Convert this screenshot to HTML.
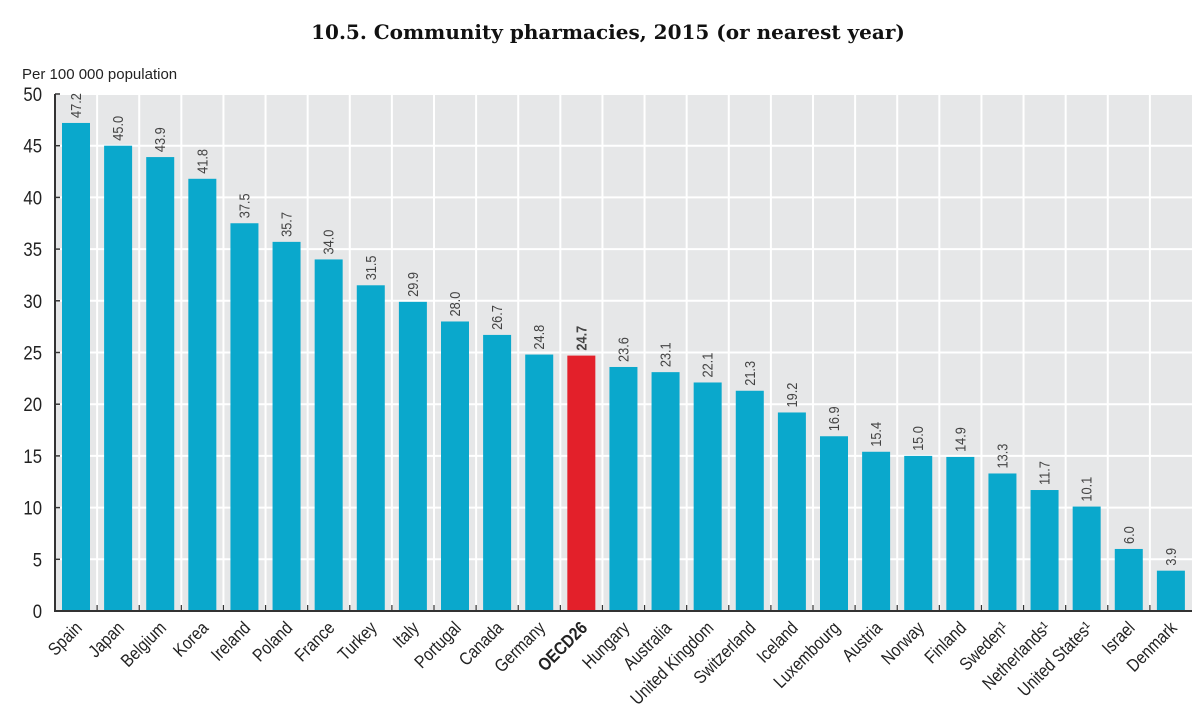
<!DOCTYPE html>
<html><head><meta charset="utf-8"><style>
body{margin:0;background:#fff;width:1198px;height:718px;overflow:hidden}
svg text{font-family:"Liberation Sans",sans-serif}
</style></head><body>
<svg id="chart" width="1198" height="718">
<text x="608" y="39" text-anchor="middle" font-weight="bold" fill="#111" style="font-family:'DejaVu Serif',serif;font-size:20px">10.5. Community pharmacies, 2015 (or nearest year)</text>
<text x="22" y="79" font-size="15" fill="#222">Per 100 000 population</text>
<g id="plot"></g>
</svg>
<script>
const categories=["Spain","Japan","Belgium","Korea","Ireland","Poland","France","Turkey","Italy","Portugal","Canada","Germany","OECD26","Hungary","Australia","United Kingdom","Switzerland","Iceland","Luxembourg","Austria","Norway","Finland","Sweden¹","Netherlands¹","United States¹","Israel","Denmark"];
const values=[47.2,45.0,43.9,41.8,37.5,35.7,34.0,31.5,29.9,28.0,26.7,24.8,24.7,23.6,23.1,22.1,21.3,19.2,16.9,15.4,15.0,14.9,13.3,11.7,10.1,6.0,3.9];
const yTicks=[0,5,10,15,20,25,30,35,40,45,50];
const NS="http://www.w3.org/2000/svg";
const g=document.getElementById('plot');
const L=55,R=1192,T=94,B=611,yMax=50;
const slot=(R-L)/categories.length;
const y=v=>B-(v/yMax)*(B-T);
const x=i=>L+i*slot;
function mk(t,a){const e=document.createElementNS(NS,t);for(const k in a)e.setAttribute(k,a[k]);g.appendChild(e);return e;}
const bg=mk('rect',{x:L,y:T,width:R-L,height:B-T,fill:'#e6e7e8'});


yTicks.forEach(t=>{
  if(t>0){const gl=mk('line',{x1:L,x2:R,y1:y(t),y2:y(t),stroke:'#fff','stroke-width':2});
  
  }
  const tk=mk('line',{x1:L,x2:L+5,y1:y(t),y2:y(t),stroke:'#333','stroke-width':1.5});
  
  
  const tl=mk('text',{x:0,y:0,transform:`translate(42,${y(t)+7}) scale(0.88,1)`,'text-anchor':'end','font-size':19,fill:'#222'});
  tl.textContent=t;
  
  
});
for(let i=1;i<categories.length;i++){
  const vl=mk('line',{x1:x(i),x2:x(i),y1:T,y2:B,stroke:'#fff','stroke-width':2});
  
  
  const tk=mk('line',{x1:x(i),x2:x(i),y1:B-6,y2:B,stroke:'#333','stroke-width':1.2});
  
  
}
categories.forEach((c,i)=>{
  const v=values[i];const oe=c==='OECD26';
  const bx=x(i)+7,bw=28;
  const r=mk('rect',{x:bx,y:y(v),width:bw,height:B-y(v),fill:oe?'#e3202a':'#0aa8cc'});
  
  
  const cx=bx+bw/2;
  const vt=mk('text',{x:0,y:0,transform:`translate(${cx+5},${y(v)-5}) rotate(-90) scale(0.85,1)`,'font-size':15,fill:'#444','font-weight':oe?'bold':'normal'});
  vt.textContent=v.toFixed(1);
  
  
  const lt=mk('text',{x:0,y:0,transform:`translate(${cx+7},${B+18}) rotate(-45) scale(0.85,1)`,'text-anchor':'end','font-size':18,fill:'#222','font-weight':oe?'bold':'normal'});
  lt.textContent=c;
  
  
});
const ax=mk('path',{d:`M${L} ${T} V${B} H${R}`,fill:'none',stroke:'#333','stroke-width':2});


</script>
</body></html>
